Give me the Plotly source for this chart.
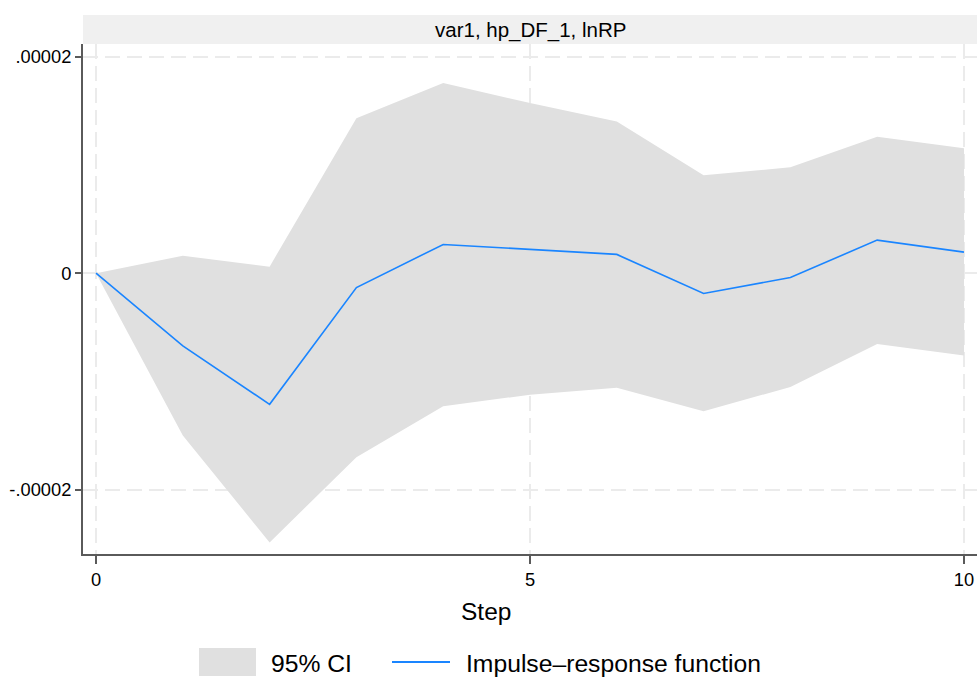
import plotly.graph_objects as go

# ---- data ----
steps = [0, 1, 2, 3, 4, 5, 6, 7, 8, 9, 10]
irf = [0.0, -0.673e-5, -1.212e-5, -0.133e-5, 0.265e-5, 0.219e-5, 0.173e-5,
       -0.188e-5, -0.040e-5, 0.305e-5, 0.194e-5]
ci_upper = [0.0, 0.160e-5, 0.060e-5, 1.432e-5, 1.756e-5, 1.571e-5, 1.401e-5,
            0.904e-5, 0.978e-5, 1.259e-5, 1.154e-5]
ci_lower = [0.0, -1.500e-5, -2.488e-5, -1.701e-5, -1.231e-5, -1.123e-5, -1.059e-5,
            -1.275e-5, -1.052e-5, -0.654e-5, -0.762e-5]

y_tickvals = [-0.00002, 0, 0.00002]
y_ticktext = ["-.00002", "0", ".00002"]
x_tickvals = [0, 5, 10]
x_ticktext = ["0", "5", "10"]

panel_title = "var1, hp_DF_1, lnRP"
x_title = "Step"
legend_ci = "95% CI"
legend_irf = "Impulse\u2013response function"

CI_COLOR = "#e0e0e0"
LINE_COLOR = "#1a85ff"
AXIS_COLOR = "#5a5a5a"
GRID_COLOR = "#ebebeb"
FONT = "Liberation Sans, Arial, sans-serif"

W, H = 980, 678
L, R, T, B = 83, 3, 44, 124
PW, PH = W - L - R, H - T - B


def px_x(px):
    return (px - L) / PW


def px_y(py):
    return (H - B - py) / PH


fig = go.Figure()

fig.add_trace(go.Scatter(x=steps, y=ci_lower, mode="lines",
                         line=dict(width=0, color=CI_COLOR),
                         hoverinfo="skip", showlegend=False))
fig.add_trace(go.Scatter(x=steps, y=ci_upper, mode="lines",
                         line=dict(width=0, color=CI_COLOR),
                         fill="tonexty", fillcolor=CI_COLOR,
                         name=legend_ci, showlegend=False))
fig.add_trace(go.Scatter(x=steps, y=irf, mode="lines",
                         line=dict(width=1.6, color=LINE_COLOR),
                         name=legend_irf, showlegend=False))

shapes = [
    # panel title bar
    dict(type="rect", xref="paper", yref="paper",
         x0=0, x1=1, y0=1, y1=px_y(15),
         fillcolor="#f0f0f0", line=dict(width=0), layer="below"),
    # legend: CI swatch
    dict(type="rect", xref="paper", yref="paper",
         x0=px_x(199), x1=px_x(256), y0=px_y(676), y1=px_y(648),
         fillcolor=CI_COLOR, line=dict(width=0)),
    # legend: line sample
    dict(type="line", xref="paper", yref="paper",
         x0=px_x(392), x1=px_x(450), y0=px_y(662), y1=px_y(662),
         line=dict(color=LINE_COLOR, width=2)),
]

annotations = [
    dict(text=panel_title, xref="paper", yref="paper", x=0.5, y=px_y(30),
         xanchor="center", yanchor="middle", showarrow=False,
         font=dict(family=FONT, size=20.5, color="#000")),
    dict(text=x_title, xref="paper", yref="paper", x=px_x(486), y=px_y(611),
         xanchor="center", yanchor="middle", showarrow=False,
         font=dict(family=FONT, size=24.5, color="#000")),
    dict(text=legend_ci, xref="paper", yref="paper", x=px_x(269), y=px_y(663),
         xanchor="left", yanchor="middle", showarrow=False,
         font=dict(family=FONT, size=24.7, color="#000")),
    dict(text=legend_irf, xref="paper", yref="paper", x=px_x(464), y=px_y(663),
         xanchor="left", yanchor="middle", showarrow=False,
         font=dict(family=FONT, size=24.7, color="#000")),
]

fig.update_layout(
    width=W, height=H,
    margin=dict(l=L, r=R, t=T, b=B, pad=0),
    paper_bgcolor="white", plot_bgcolor="white",
    font=dict(family=FONT, size=18, color="#000"),
    shapes=shapes, annotations=annotations,
    showlegend=False,
)

fig.update_xaxes(
    range=[-0.15, 10.15], tickvals=x_tickvals, ticktext=x_ticktext,
    showgrid=True, gridcolor=GRID_COLOR, griddash="15px,7px", gridwidth=1.5,
    zeroline=False, showline=True, linecolor=AXIS_COLOR, linewidth=2,
    ticks="outside", ticklen=8, tickwidth=1.5, tickcolor=AXIS_COLOR,
    tickfont=dict(family=FONT, size=18.3, color="#000"),
)
fig.update_yaxes(
    range=[-2.595e-5, 2.117e-5], tickvals=y_tickvals, ticktext=y_ticktext,
    showgrid=True, gridcolor=GRID_COLOR, griddash="15px,7px", gridwidth=1.5,
    zeroline=False, showline=True, linecolor=AXIS_COLOR, linewidth=2,
    ticks="outside", ticklen=6, tickwidth=1.5, tickcolor=AXIS_COLOR,
    tickfont=dict(family=FONT, size=18.3, color="#000"),
)

fig.write_html("out.html")
